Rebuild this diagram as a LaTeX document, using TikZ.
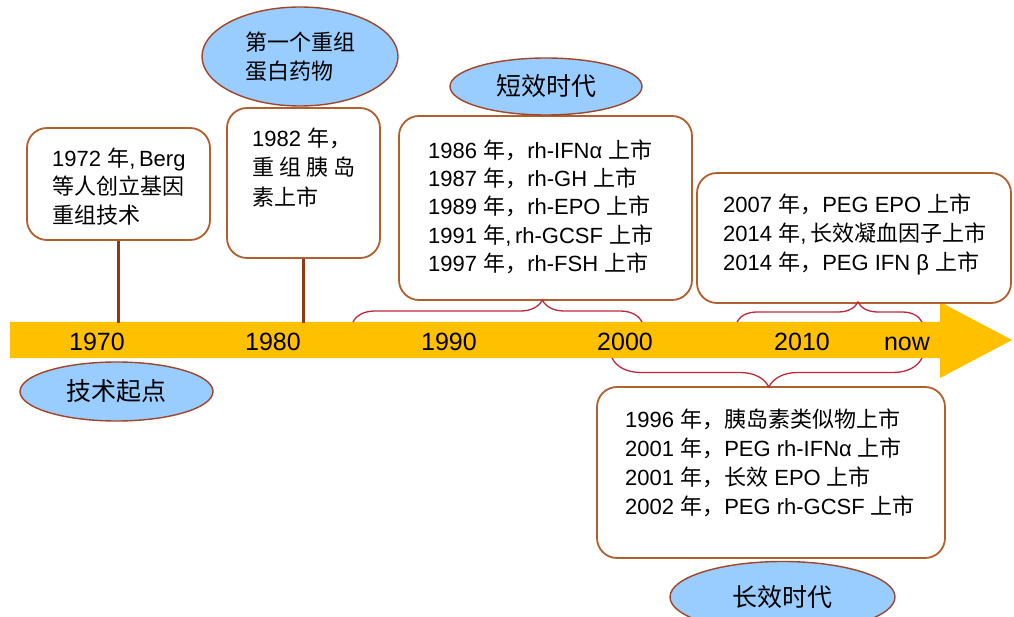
\documentclass[tikz,border=0pt]{standalone}
\usepackage{fontspec}
\setmainfont{Liberation Sans}
\newfontfamily\cjkf{Noto Sans CJK SC}
\newcommand\zh[1]{{\cjkf #1}}
\usetikzlibrary{shapes.geometric,decorations.pathreplacing}
\definecolor{gold}{HTML}{FFC000}
\definecolor{boxline}{HTML}{B0602E}
\definecolor{stemc}{HTML}{8E3B12}
\definecolor{ellfill}{HTML}{99CCFF}
\definecolor{ellline}{HTML}{A0452A}
\definecolor{bracec}{HTML}{C0283A}
\begin{document}
\begin{tikzpicture}[x=1pt,y=-1pt,
  boxn/.style={draw=boxline, line width=1.8pt, rounded corners=20pt, fill=white, inner sep=0pt},
  ell/.style={ellipse, draw=ellline, line width=1.4pt, fill=ellfill, inner sep=0pt, font=\fontsize{25}{30}\selectfont},
  txt/.style={anchor=north west, inner sep=0pt, align=left},
  yr/.style={anchor=base, inner sep=0pt, font=\fontsize{25}{30}\selectfont},
  stem/.style={draw=stemc, line width=3pt},
  brc/.style={draw=bracec, line width=1.3pt, decorate},
]
\useasboundingbox (0,0) rectangle (1014,617);
\fill[white] (0,0) rectangle (1014,617);

% timeline arrow
\fill[gold] (10,322) -- (940,322) -- (940,302) -- (1012,340) -- (940,378) -- (940,358) -- (10,358) -- cycle;

% year labels
\node[yr] (y1970) at (97,351) {1970};
\node[yr] (y1980) at (273,351) {1980};
\node[yr] (y1990) at (449,351) {1990};
\node[yr] (y2000) at (625,351) {2000};
\node[yr] (y2010) at (802,351) {2010};
\node[yr] (ynow) at (907,351) {now};

% boxes
\node[boxn, minimum width=183pt, minimum height=112pt] (b1) at (118.5,184) {};
\node[boxn, minimum width=153pt, minimum height=150pt] (b2) at (303.5,183) {};
\node[boxn, minimum width=293pt, minimum height=184pt] (b3) at (545.5,208) {};
\node[boxn, minimum width=314pt, minimum height=130pt] (b4) at (854,238) {};
\node[boxn, minimum width=348pt, minimum height=171pt] (b5) at (771,472.5) {};

% stems
\coordinate (s1) at (118.5,323);
\coordinate (s2) at (303.5,323);
\draw[stem] (b1.south) -- (s1);
\draw[stem] (b2.south) -- (s2);

% braces
\coordinate (br1a) at (353,322);
\coordinate (br1b) at (642,322);
\coordinate (br2a) at (737,322);
\coordinate (br2b) at (922,322);
\coordinate (br3a) at (922,358);
\coordinate (br3b) at (612,358);
\draw[brc, decoration={brace, amplitude=22pt, aspect=0.655}] (br1a) -- (br1b);
\draw[brc, decoration={brace, amplitude=20pt, aspect=0.654}] (br2a) -- (br2b);
\draw[brc, decoration={brace, amplitude=29pt, aspect=0.494}] (br3a) -- (br3b);

% box texts
\node[txt, font=\fontsize{22}{28.5}\selectfont] (t1) at (52,146)
  {\rule{0pt}{20pt}1972 \zh{年},\,Berg\\ \zh{等人创立基因}\\ \zh{重组技术}};
\node[txt, font=\fontsize{22}{29.5}\selectfont] (t2) at (252,126)
  {\rule{0pt}{20pt}1982 \zh{年，}\\ \zh{重\hspace{5pt}组\hspace{5pt}胰\hspace{5pt}岛}\\ \zh{素上市}};
\node[txt, font=\fontsize{22}{28.3}\selectfont] (t3) at (428,138)
  {\rule{0pt}{20pt}1986 \zh{年，}rh-IFNα \zh{上市}\\
   1987 \zh{年，}rh-GH \zh{上市}\\
   1989 \zh{年，}rh-EPO \zh{上市}\\
   1991 \zh{年},\,rh-GCSF \zh{上市}\\
   1997 \zh{年，}rh-FSH \zh{上市}};
\node[txt, font=\fontsize{22}{29}\selectfont] (t4) at (723,192)
  {\rule{0pt}{20pt}2007 \zh{年，}PEG EPO \zh{上市}\\
   2014 \zh{年},\,\zh{长效凝血因子上市}\\
   2014 \zh{年，}PEG IFN β \zh{上市}};
\node[txt, font=\fontsize{22}{29}\selectfont] (t5) at (625,407)
  {\rule{0pt}{20pt}1996 \zh{年，胰岛素类似物上市}\\
   2001 \zh{年，}PEG rh-IFNα \zh{上市}\\
   2001 \zh{年，长效} EPO \zh{上市}\\
   2002 \zh{年，}PEG rh-GCSF \zh{上市}};

% ellipses
\node[ell, minimum width=193pt, minimum height=59pt] (e1) at (116.5,391.5) {\zh{技术起点}};
\node[ell, minimum width=196pt, minimum height=99pt, align=left, font=\fontsize{22}{29}\selectfont] (e2) at (300,56.5) {\zh{第一个重组}\\ \zh{蛋白药物}};
\node[ell, minimum width=192pt, minimum height=57pt] (e3) at (546,86.5) {\zh{短效时代}};
\node[ell, minimum width=225pt, minimum height=71pt] (e4) at (782.5,597) {\zh{长效时代}};
\end{tikzpicture}
\end{document}
